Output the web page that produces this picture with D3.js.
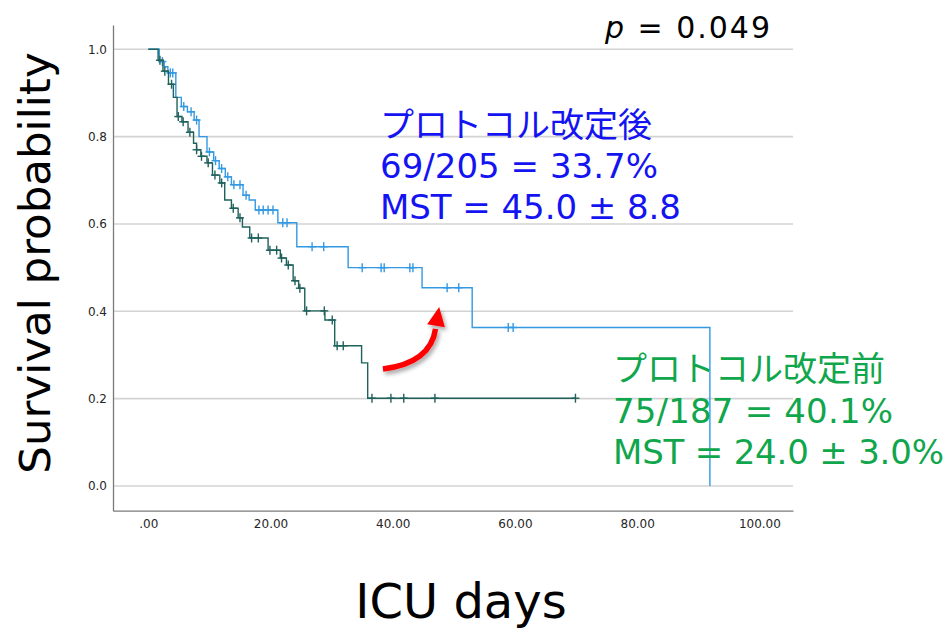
<!DOCTYPE html>
<html>
<head>
<meta charset="utf-8">
<script src="https://cdn.jsdelivr.net/npm/d3@7"></script>
<style>
  body { margin: 0; background: #fff; }
  svg { display: block; }
  .tick text { font-family: "DejaVu Sans", sans-serif; font-size: 12px; fill: #262626; }
  .domain { stroke: #7a7a7a; stroke-width: 1.3; }
</style>
</head>
<body>
<div id="chart"></div>
<script>
// survival steps: [day, survival after the drop]
const afterSteps = [
  [1.8, 0.972], [2.6, 0.96], [3.2, 0.946], [4.5, 0.89], [5.4, 0.869], [6.4, 0.857],
  [7.5, 0.838], [8.3, 0.80], [9.6, 0.765], [10.7, 0.745], [11.6, 0.727], [12.6, 0.708],
  [13.6, 0.69], [15.5, 0.666], [16.5, 0.655], [17.5, 0.632], [21.2, 0.603], [24.3, 0.548],
  [32.7, 0.50], [44.8, 0.454], [53.0, 0.363], [91.9, 0]
];
const afterCensored = [
  2.3, 3.6, 4.0, 5.8, 7.0, 7.9, 10.0, 11.0, 12.0, 13.0, 14.0, 15.0, 16.0,
  18.1, 18.8, 19.6, 20.4, 22.0, 22.7, 26.8, 28.7, 35.0, 38.1, 38.6, 42.8, 43.3,
  48.9, 50.8, 58.9, 59.7
];
const afterEnd = 91.9;

const beforeSteps = [
  [1.6, 0.975], [2.4, 0.95], [3.3, 0.92], [4.1, 0.89], [4.7, 0.846], [5.5, 0.834],
  [6.5, 0.81], [7.4, 0.785], [7.9, 0.77], [8.6, 0.755], [9.6, 0.74], [10.5, 0.712],
  [11.7, 0.694], [12.5, 0.655], [13.6, 0.636], [14.7, 0.614], [15.4, 0.593], [16.6, 0.568],
  [19.6, 0.54], [21.6, 0.522], [22.6, 0.506], [23.7, 0.47], [24.6, 0.453], [25.6, 0.401],
  [28.9, 0.38], [30.5, 0.321], [34.9, 0.282], [35.9, 0.201]
];
const beforeCensored = [
  1.9, 2.7, 3.8, 4.9, 5.7, 6.8, 7.9, 8.7, 9.8, 10.9, 12.0, 13.9, 15.0, 16.9, 18.0,
  19.9, 21.0, 21.8, 22.9, 24.0, 24.8, 25.9, 28.8, 30.1, 30.9, 31.9, 36.6, 39.7,
  41.8, 46.9, 69.9
];
const beforeEnd = 69.9;

const xTicks = [0, 20, 40, 60, 80, 100];
const yTicks = [0, 0.2, 0.4, 0.6, 0.8, 1.0];

const afterLabel = ["プロトコル改定後", "69/205 = 33.7%", "MST = 45.0 ± 8.8"];
const beforeLabel = ["プロトコル改定前", "75/187 = 40.1%", "MST = 24.0 ± 3.0%"];
const pLabel = "0.049";

// arrow annotation in data units: start, control, end, tip
const arrowPts = [[38.4, 0.268], [46.2, 0.282], [47.0, 0.36], [47.6, 0.41]];

const width = 950, height = 632;
const svg = d3.select('#chart').append('svg')
  .attr('width', width)
  .attr('height', height);

const x = d3.scaleLinear().domain([-5.78, 105.5]).range([113, 793]);
const y = d3.scaleLinear().domain([-0.0566, 1.0557]).range([510.7, 25]);

// grid
svg.append('g')
  .selectAll('line')
  .data(yTicks)
  .join('line')
  .attr('x1', 113).attr('x2', 793)
  .attr('y1', d => y(d)).attr('y2', d => y(d))
  .attr('stroke', '#d3d3d3')
  .attr('stroke-width', 1.6);

svg.append('g')
  .attr('transform', 'translate(0,510.7)')
  .call(d3.axisBottom(x).tickValues(xTicks).tickSize(0).tickPadding(9)
    .tickFormat(d => d === 0 ? '.00' : d3.format('.2f')(d)));

svg.append('g')
  .attr('transform', 'translate(113,0)')
  .call(d3.axisLeft(y).tickValues(yTicks).tickSize(0).tickPadding(6)
    .tickFormat(d3.format('.1f')));

const stepLine = d3.line()
  .x(d => x(d[0]))
  .y(d => y(d[1]))
  .curve(d3.curveStepAfter);

function survAt(steps, t) {
  let s = 1;
  steps.forEach(d => { if (d[0] <= t) s = d[1]; });
  return s;
}

function drawCurve(steps, end, censored, color) {
  const pts = [[0, 1]].concat(steps);
  if (pts[pts.length - 1][0] < end) pts.push([end, pts[pts.length - 1][1]]);
  const g = svg.append('g');
  g.append('path')
    .attr('d', stepLine(pts))
    .attr('fill', 'none')
    .attr('stroke', color)
    .attr('stroke-width', 1.4);
  const c = g.selectAll('g.cens')
    .data(censored)
    .join('g')
    .attr('class', 'cens')
    .attr('transform', d => `translate(${x(d)},${y(survAt(steps, d))})`);
  c.append('line').attr('x1', 0).attr('x2', 0).attr('y1', -4.5).attr('y2', 4.5)
    .attr('stroke', color).attr('stroke-width', 1.4);
  c.append('line').attr('x1', -4).attr('x2', 4).attr('y1', 0).attr('y2', 0)
    .attr('stroke', color).attr('stroke-width', 1.4);
}

drawCurve(afterSteps, afterEnd, afterCensored, '#3399e3');
drawCurve(beforeSteps, beforeEnd, beforeCensored, '#1f615c');

// axis titles
svg.append('text')
  .attr('transform', 'translate(50,263) rotate(-90)')
  .attr('text-anchor', 'middle')
  .style('font-family', '"DejaVu Sans", sans-serif')
  .style('font-size', '43.5px')
  .attr('fill', '#000')
  .text('Survival probability');

svg.append('text')
  .attr('x', 461).attr('y', 618)
  .attr('text-anchor', 'middle')
  .style('font-family', '"DejaVu Sans", sans-serif')
  .style('font-size', '48px')
  .attr('fill', '#000')
  .text('ICU days');

// p value
const pt = svg.append('text')
  .attr('x', 605).attr('y', 38)
  .style('font-family', '"DejaVu Sans", sans-serif')
  .style('font-size', '30px')
  .attr('fill', '#000')
  .attr('textLength', 165)
  .attr('lengthAdjust', 'spacing');
pt.append('tspan').style('font-style', 'italic').text('p');
pt.append('tspan').text(' = ' + pLabel);

// group annotations
function drawLabel(lines, x0, baselines, widths, color) {
  lines.forEach((t, i) => {
    const el = svg.append('text')
      .attr('x', x0).attr('y', baselines[i])
      .style('font-family', i === 0 ? '"Noto Sans CJK JP", sans-serif' : '"DejaVu Sans", "Noto Sans CJK JP", sans-serif')
      .style('font-size', '34px')
      .attr('fill', color)
      .text(t);
    if (i > 0) el.attr('textLength', widths[i]).attr('lengthAdjust', 'spacing');
  });
}
drawLabel(afterLabel, 380, [137, 178, 219], [272, 278, 301], '#1414f2');
drawLabel(beforeLabel, 613, [381, 423, 464], [271, 280, 331], '#10a64c');

// red arrow
const defs = svg.append('defs');
defs.append('filter').attr('id', 'shadow')
  .attr('x', '-30%').attr('y', '-30%').attr('width', '160%').attr('height', '160%')
  .append('feDropShadow')
  .attr('dx', 2).attr('dy', 3).attr('stdDeviation', 2)
  .attr('flood-color', '#000').attr('flood-opacity', 0.35);

const ap = arrowPts.map(d => [x(d[0]), y(d[1])]);
const arrow = svg.append('g').attr('filter', 'url(#shadow)');
const p = d3.path();
p.moveTo(ap[0][0], ap[0][1]);
p.quadraticCurveTo(ap[1][0], ap[1][1], ap[2][0], ap[2][1]);
arrow.append('path')
  .attr('d', p.toString())
  .attr('fill', 'none')
  .attr('stroke', '#ff0000')
  .attr('stroke-width', 5.5);
const dx = ap[3][0] - ap[2][0], dy = ap[3][1] - ap[2][1];
const len = Math.hypot(dx, dy), ux = dx / len, uy = dy / len;
const bx = ap[3][0] - ux * 19, by = ap[3][1] - uy * 19;
arrow.append('path')
  .attr('d', `M${ap[3][0]},${ap[3][1]}L${bx - uy * 9},${by + ux * 9}L${bx + uy * 9},${by - ux * 9}Z`)
  .attr('fill', '#ff0000');
</script>
</body>
</html>
